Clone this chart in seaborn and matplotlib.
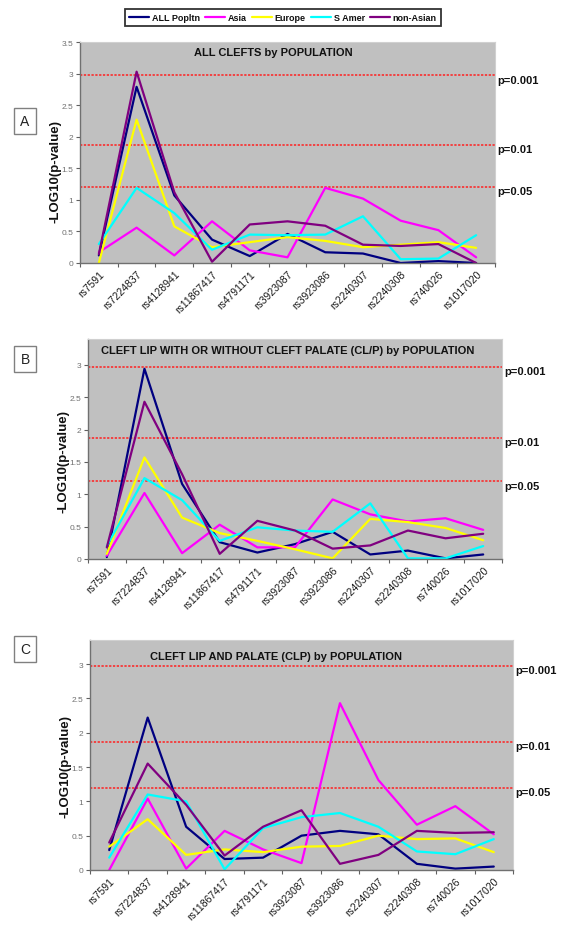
import numpy as np
import pandas as pd
import matplotlib
matplotlib.use("Agg")
import matplotlib.pyplot as plt
import matplotlib.transforms as mtransforms
from matplotlib.lines import Line2D
import seaborn as sns

# ---------------- data ----------------
snps = ["rs7591", "rs7224837", "rs4128941", "rs11867417", "rs4791171",
        "rs3923087", "rs3923086", "rs2240307", "rs2240308", "rs740026", "rs1017020"]
populations = ["ALL Popltn", "Asia", "Europe", "S Amer", "non-Asian"]
colors = ["#000080", "#FF00FF", "#FFFF00", "#00FFFF", "#800080"]

# Panel A: ALL CLEFTS
a_all = [0.12, 2.79, 1.07, 0.37, 0.11, 0.46, 0.17, 0.15, 0.00, 0.03, 0.00]
a_asia = [0.17, 0.56, 0.12, 0.66, 0.20, 0.09, 1.19, 1.02, 0.67, 0.52, 0.09]
a_europe = [0.00, 2.27, 0.58, 0.25, 0.33, 0.41, 0.35, 0.25, 0.29, 0.33, 0.24]
a_samer = [0.30, 1.19, 0.79, 0.21, 0.45, 0.44, 0.45, 0.74, 0.06, 0.07, 0.44]
a_nonasian = [0.14, 3.03, 1.12, 0.02, 0.61, 0.66, 0.59, 0.29, 0.27, 0.30, 0.00]

# Panel B: CL/P
b_all = [0.03, 2.94, 1.16, 0.26, 0.10, 0.23, 0.42, 0.07, 0.13, 0.01, 0.07]
b_asia = [0.05, 1.02, 0.09, 0.53, 0.18, 0.18, 0.92, 0.69, 0.58, 0.63, 0.45]
b_europe = [0.08, 1.57, 0.64, 0.40, 0.28, 0.15, 0.01, 0.62, 0.57, 0.48, 0.29]
b_samer = [0.20, 1.25, 0.91, 0.28, 0.49, 0.44, 0.42, 0.86, 0.01, 0.01, 0.20]
b_nonasian = [0.18, 2.43, 1.31, 0.08, 0.59, 0.44, 0.16, 0.21, 0.44, 0.32, 0.39]

# Panel C: CLP
c_all = [0.29, 2.22, 0.63, 0.16, 0.18, 0.50, 0.57, 0.52, 0.09, 0.02, 0.05]
c_asia = [0.00, 1.04, 0.02, 0.57, 0.30, 0.10, 2.43, 1.31, 0.66, 0.93, 0.52]
c_europe = [0.34, 0.74, 0.22, 0.30, 0.26, 0.34, 0.35, 0.50, 0.45, 0.46, 0.26]
c_samer = [0.18, 1.10, 1.00, 0.01, 0.61, 0.77, 0.83, 0.63, 0.27, 0.23, 0.45]
c_nonasian = [0.40, 1.55, 0.95, 0.21, 0.63, 0.87, 0.09, 0.22, 0.57, 0.54, 0.55]

thresholds = [2.97, 1.87, 1.20]
threshold_labels = ["p=0.001", "p=0.01", "p=0.05"]

titles = ["ALL CLEFTS by POPULATION",
          "CLEFT LIP WITH OR WITHOUT CLEFT PALATE (CL/P) by POPULATION",
          "CLEFT LIP AND PALATE (CLP) by POPULATION"]
panel_letters = ["A", "B", "C"]
ylabel = "-LOG10(p-value)"

panels = [
    [a_all, a_asia, a_europe, a_samer, a_nonasian],
    [b_all, b_asia, b_europe, b_samer, b_nonasian],
    [c_all, c_asia, c_europe, c_samer, c_nonasian],
]

# ---------------- styling / layout ----------------
sns.set_theme(style="white")
plt.rcParams["font.family"] = ["Liberation Sans", "DejaVu Sans"]

W, H = 563, 928
fig = plt.figure(figsize=(W / 100, H / 100), dpi=100, facecolor="white")

def fbox(l, r, t, b):
    return [l / W, 1 - b / H, (r - l) / W, (b - t) / H]

axes_px = [(80, 495, 43, 264), (88, 502, 340, 560), (90, 513, 641, 871)]
ylims = [3.5, 3.4, 3.35]
title_pos = [(0.465, 0.955), (0.482, 0.95), (0.44, 0.93)]
ylabel_pos = [(55, 172), (63, 462), (65, 767)]
letter_pos = [(25, 122), (25, 360), (25, 650)]

palette = dict(zip(populations, colors))
x = np.arange(len(snps))

for i, (series, (l, r, t, b)) in enumerate(zip(panels, axes_px)):
    ax = fig.add_axes(fbox(l, r, t, b))
    ax.set_facecolor("#C0C0C0")
    rows = []
    for pop, vals in zip(populations, series):
        for j, v in enumerate(vals):
            rows.append({"pos": j, "value": v, "pop": pop})
    df = pd.DataFrame(rows)
    sns.lineplot(data=df, x="pos", y="value", hue="pop", hue_order=populations,
                 palette=palette, linewidth=1.6, ax=ax, legend=False,
                 estimator=None, sort=False)
    for thr, lab in zip(thresholds, threshold_labels):
        ax.axhline(thr, color="#FF2020", linestyle=(0, (1.5, 1.0)), linewidth=1.1,
                   zorder=1)
        tr = mtransforms.blended_transform_factory(ax.transAxes, ax.transData)
        ax.annotate(lab, xy=(1.0, thr), xycoords=tr, xytext=(2, -3),
                    textcoords="offset points", ha="left", va="center",
                    fontsize=8, fontweight="bold", color="#111111",
                    annotation_clip=False)
    ax.set_xlim(-0.5, len(snps) - 0.5)
    ax.set_ylim(0, ylims[i])
    ax.set_yticks(np.arange(0, ylims[i] + 0.001, 0.5))
    ax.set_yticklabels([("%g" % v) for v in np.arange(0, ylims[i] + 0.001, 0.5)])
    ax.set_xticks(x)
    ax.set_xticklabels(snps, rotation=45, ha="right", rotation_mode="anchor",
                       fontsize=7.5, color="#1a1a1a")
    ax.set_xticks(np.arange(-0.5, len(snps)), minor=True)
    ax.tick_params(axis="x", which="major", length=0, pad=4)
    ax.tick_params(axis="x", which="minor", length=3, width=0.8, color="#606060",
                   direction="out", bottom=True)
    ax.tick_params(axis="y", length=3, width=0.8, color="#606060", direction="out",
                   labelsize=6, labelcolor="#707070", pad=2, left=True)
    ax.set_xlabel("")
    ax.set_ylabel("")
    for s in ["left", "bottom"]:
        ax.spines[s].set_color("#707070")
        ax.spines[s].set_linewidth(1.0)
    for s in ["top", "right"]:
        ax.spines[s].set_color("#D0D0D0")
        ax.spines[s].set_linewidth(0.8)
    ax.text(title_pos[i][0], title_pos[i][1], titles[i], transform=ax.transAxes,
            ha="center", va="center", fontsize=8, fontweight="bold", color="#111111")
    fig.text(ylabel_pos[i][0] / W, 1 - ylabel_pos[i][1] / H, ylabel, rotation=90,
             ha="center", va="center", fontsize=9.5, fontweight="bold", color="#111111")
    fig.text(letter_pos[i][0] / W, 1 - letter_pos[i][1] / H, panel_letters[i],
             ha="center", va="center", fontsize=10, color="#222222",
             bbox=dict(boxstyle="square,pad=0.45", facecolor="white",
                       edgecolor="#808080", linewidth=1.0))

handles = [Line2D([0], [0], color=c, lw=1.6) for c in colors]
leg = fig.legend(handles, populations, loc="center",
                 bbox_to_anchor=(283 / W, 1 - 18.5 / H), ncol=5, frameon=True,
                 fancybox=False, edgecolor="black", fontsize=6.5,
                 handlelength=2.2, handletextpad=0.3, columnspacing=0.6,
                 borderpad=0.45)
leg.get_frame().set_linewidth(1.3)
for txt in leg.get_texts():
    txt.set_fontweight("bold")
    txt.set_color("#111111")

fig.savefig("out.png", dpi=100, facecolor="white")
